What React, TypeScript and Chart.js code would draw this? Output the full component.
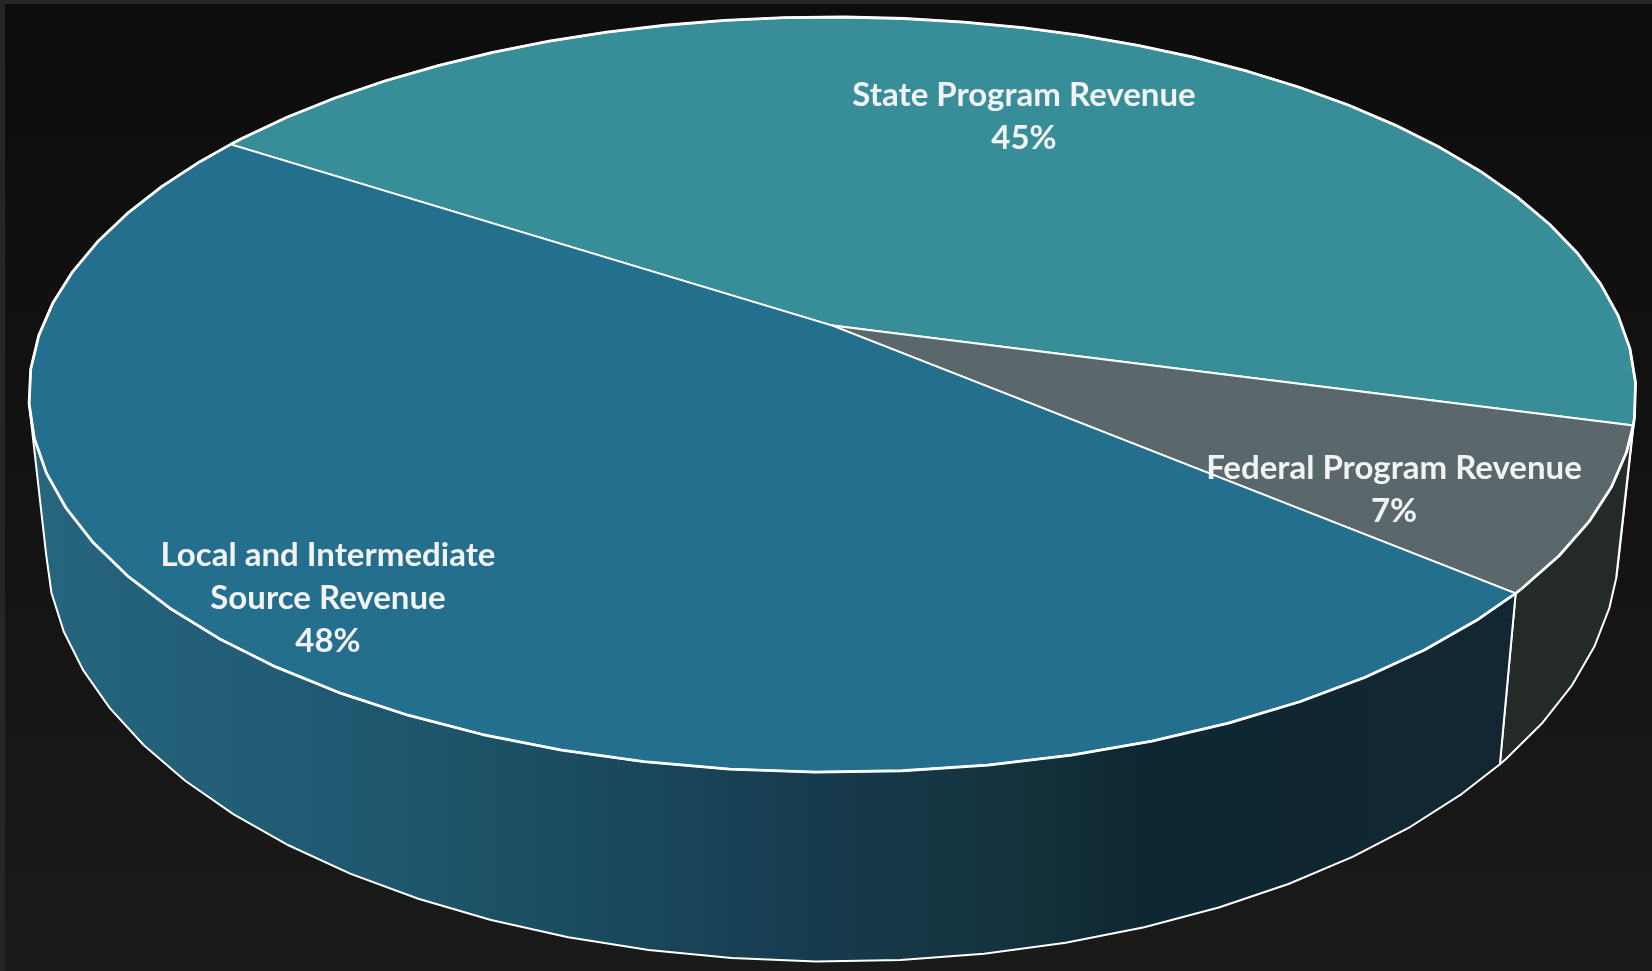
import React, { useEffect, useRef } from "react";
import { Chart, registerables } from "chart.js";

Chart.register(...registerables);

const categories = ["State Program Revenue", "Federal Program Revenue", "Local and Intermediate Source Revenue"];
const revenueShare = [45, 7, 48];
const topColors = ["#388e98", "#5a686b", "#236f8d"];

// Wrapped label rows and their anchors on the page.
const labelRows = [["State Program Revenue"], ["Federal Program Revenue"], ["Local and Intermediate", "Source Revenue"]];
const labelCenterX = [1024, 1394, 328];
const labelFirstRowY = [95, 468, 555];

const W = 1652;
const H = 971;

// Camera for the tilted disc: a homography of the unit circle for the top face,
// and a second set of terms for the lower rim of the disc.
const CAM = { cx: 832.4, cy: 325.6, a: 790, b: 365, p: 0.1827, q: 0.0208, bLow: 388, drop: 145 };

const project = (angle: number, z: number) => {
  const u = Math.cos(angle);
  const v = Math.sin(angle);
  const w = 1 + CAM.q * z - CAM.p * v;
  const b = z ? CAM.bLow : CAM.b;
  return { x: CAM.cx + (CAM.a * u) / w, y: CAM.cy + (b * v + CAM.drop * z) / w };
};

// The rim is a faceted polygon rather than a smooth curve.
const FACET = (2 * Math.PI) / 70;
const FACET_ORIGIN = (91 * Math.PI) / 180;

const sampleAngles = (start: number, end: number) => {
  const out = [start];
  let k = Math.ceil((start - FACET_ORIGIN) / FACET + 1e-6);
  while (FACET_ORIGIN + k * FACET < end - 1e-6) {
    out.push(FACET_ORIGIN + k * FACET);
    k++;
  }
  out.push(end);
  return out;
};

// A side facet faces the viewer when its winding on screen is negative.
const facetVisible = (a0: number, a1: number) => {
  const pts = [project(a0, 0), project(a1, 0), project(a1, 1), project(a0, 1)];
  let area = 0;
  for (let i = 0; i < 4; i++) {
    const p = pts[i];
    const q = pts[(i + 1) % 4];
    area += p.x * q.y - q.x * p.y;
  }
  return area < 0;
};

const sideFill = (ctx: CanvasRenderingContext2D, index: number) => {
  if (index === 1) return "#232a28";
  if (index === 0) return "#1d2a30";
  const g = ctx.createLinearGradient(30, 0, 1500, 0);
  g.addColorStop(0, "#27667f");
  g.addColorStop(0.2, "#1f5a72");
  g.addColorStop(0.33, "#1c5064");
  g.addColorStop(0.52, "#173c50");
  g.addColorStop(0.65, "#15343f");
  g.addColorStop(0.76, "#0e2732");
  g.addColorStop(1, "#122731");
  return g;
};

const drawSide = (ctx: CanvasRenderingContext2D, start: number, end: number, index: number) => {
  const angles = sampleAngles(start, end);
  const visible: number[] = [];
  for (let i = 0; i < angles.length - 1; i++) {
    if (facetVisible(angles[i], angles[i + 1])) {
      if (!visible.length) visible.push(angles[i]);
      visible.push(angles[i + 1]);
    }
  }
  if (visible.length < 2) return;

  ctx.beginPath();
  visible.forEach((a, i) => {
    const p = project(a, 0);
    if (i === 0) ctx.moveTo(p.x, p.y);
    else ctx.lineTo(p.x, p.y);
  });
  [...visible].reverse().forEach((a) => {
    const p = project(a, 1);
    ctx.lineTo(p.x, p.y);
  });
  ctx.closePath();
  ctx.fillStyle = sideFill(ctx, index);
  ctx.fill();

  ctx.strokeStyle = "#ffffff";
  ctx.lineWidth = 2;
  ctx.lineJoin = "round";
  ctx.beginPath();
  const first = project(visible[0], 0);
  ctx.moveTo(first.x, first.y);
  visible.forEach((a) => {
    const p = project(a, 1);
    ctx.lineTo(p.x, p.y);
  });
  const last = project(visible[visible.length - 1], 0);
  ctx.lineTo(last.x, last.y);
  ctx.stroke();
};

const drawTop = (ctx: CanvasRenderingContext2D, start: number, end: number, color: string) => {
  const rim = sampleAngles(start, end).map((a) => project(a, 0));

  ctx.beginPath();
  ctx.moveTo(CAM.cx, CAM.cy);
  rim.forEach((p) => ctx.lineTo(p.x, p.y));
  ctx.closePath();
  ctx.fillStyle = color;
  ctx.fill();
  ctx.strokeStyle = "#ffffff";
  ctx.lineWidth = 2;
  ctx.lineJoin = "round";
  ctx.stroke();

  ctx.beginPath();
  rim.forEach((p, i) => (i === 0 ? ctx.moveTo(p.x, p.y) : ctx.lineTo(p.x, p.y)));
  ctx.lineWidth = 2.8;
  ctx.stroke();
};

const tiltedPie = {
  id: "tiltedPie",
  beforeDraw(chart: Chart) {
    const { ctx } = chart;
    ctx.save();
    ctx.fillStyle = "#272528";
    ctx.fillRect(0, 0, W, H);
    const g = ctx.createLinearGradient(0, 4, 0, H);
    g.addColorStop(0, "#0c0d0c");
    g.addColorStop(0.45, "#111211");
    g.addColorStop(1, "#1a1a1a");
    ctx.fillStyle = g;
    ctx.fillRect(5, 4, W - 5, H - 4);
    ctx.restore();
  },
  // The library lays out the slices; they are painted here through the camera.
  beforeDatasetsDraw(chart: Chart) {
    const { ctx } = chart;
    const arcs = chart.getDatasetMeta(0).data as any[];
    ctx.save();
    arcs.forEach((arc, i) => drawSide(ctx, arc.startAngle, arc.endAngle, i));
    arcs.forEach((arc, i) => drawTop(ctx, arc.startAngle, arc.endAngle, topColors[i]));

    ctx.fillStyle = "#f2f3f5";
    ctx.font = 'bold 33px Lato, "Open Sans", sans-serif';
    ctx.textAlign = "center";
    ctx.textBaseline = "middle";
    labelRows.forEach((rows, i) => {
      [...rows, `${revenueShare[i]}%`].forEach((row, r) => {
        ctx.fillText(row, labelCenterX[i], labelFirstRowY[i] + r * 43);
      });
    });
    ctx.restore();
    return false;
  },
};

export default function App() {
  const canvasRef = useRef<HTMLCanvasElement>(null);

  useEffect(() => {
    document.body.style.margin = "0";
    const chart = new Chart(canvasRef.current as HTMLCanvasElement, {
      type: "pie",
      data: {
        labels: categories,
        datasets: [{ data: revenueShare, backgroundColor: topColors, borderColor: "#ffffff" }],
      },
      options: {
        responsive: false,
        animation: false,
        rotation: 303.1,
        plugins: { legend: { display: false }, tooltip: { enabled: false }, title: { display: false } },
      },
      plugins: [tiltedPie],
    } as any);
    return () => chart.destroy();
  }, []);

  return <canvas ref={canvasRef} width={W} height={H} style={{ display: "block" }} />;
}
